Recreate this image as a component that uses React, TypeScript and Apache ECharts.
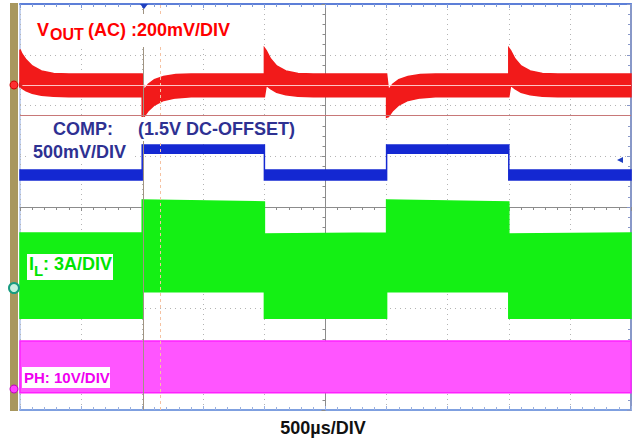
import React, { useEffect, useRef } from "react";
import * as echarts from "echarts";

// Time axis in divisions (-5 .. 5), 500us/DIV; vertical in divisions (-4 .. 4)
// VOUT (AC) envelope: time, upper edge, lower edge (divisions)
const voutT = [-5, -4.97, -4.9, -4.8, -4.65, -4.45, -4.2,
  -3, -3, -2.97, -2.9, -2.8, -2.65, -2.45, -2.2,
  -1, -1, -0.97, -0.9, -0.8, -0.65, -0.45, -0.2,
  1, 1, 1.03, 1.1, 1.2, 1.35, 1.55, 1.8,
  3, 3, 3.03, 3.1, 3.2, 3.35, 3.55, 3.8,
  5];
const voutHi = [3.10, 3.02, 2.90, 2.78, 2.68, 2.63, 2.62,
  2.62, 2.62, 2.30, 2.42, 2.51, 2.57, 2.61, 2.62,
  2.62, 3.13, 3.08, 2.92, 2.78, 2.68, 2.63, 2.62,
  2.62, 2.62, 2.30, 2.42, 2.51, 2.57, 2.61, 2.62,
  2.62, 3.13, 3.08, 2.92, 2.78, 2.68, 2.63, 2.62,
  2.62];
const voutLo = [2.38, 2.34, 2.29, 2.24, 2.20, 2.18, 2.17,
  2.17, 1.77, 1.78, 1.90, 2.01, 2.10, 2.15, 2.17,
  2.17, 2.17, 2.40, 2.33, 2.26, 2.21, 2.18, 2.17,
  2.17, 1.77, 1.78, 1.90, 2.01, 2.10, 2.15, 2.17,
  2.17, 2.17, 2.40, 2.33, 2.26, 2.21, 2.18, 2.17,
  2.17];

// COMP envelope
const compT = [-5, -3, -3, -1, -1, 1, 1, 3, 3, 5];
const compHi = [0.73, 0.73, 1.22, 1.22, 0.73, 0.73, 1.22, 1.22, 0.73, 0.73];
const compLo = [0.53, 0.53, 1.06, 1.06, 0.53, 0.53, 1.06, 1.06, 0.53, 0.53];

// IL envelope
const ilT = [-5, -3, -3, -1, -1, 1, 1, 3, 3, 5];
const ilHi = [-0.51, -0.51, 0.14, 0.10, -0.53, -0.51, 0.14, 0.10, -0.53, -0.51];
const ilLo = [-2.19, -2.19, -1.67, -1.67, -2.19, -2.19, -1.67, -1.67, -2.19, -2.19];

// PH envelope
const phT = [-5, 5];
const phHi = [-2.64, -2.64];
const phLo = [-3.66, -3.66];

// Cursor / reference lines (divisions)
const voutRefLevel = 2.40;
const redCursorLevel = 1.81;
const triggerTime = -2.98;
const cursorTime = -2.7;

const FONT = '"Liberation Sans", Arial, sans-serif';

function bandSeries(name: string, t: number[], hi: number[], lo: number[], fill: string, stroke: string, extra: any = {}) {
  const data = t.map((x, i) => [x, hi[i], lo[i]]);
  return {
    type: "custom",
    name,
    coordinateSystem: "cartesian2d",
    silent: true,
    z: 3,
    data,
    encode: { x: 0, y: [1, 2] },
    renderItem: (params: any, api: any) => {
      if (params.dataIndex !== 0) return null;
      const top = data.map((d) => api.coord([d[0], d[1]]));
      const bot = data.map((d) => api.coord([d[0], d[2]])).reverse();
      return {
        type: "polygon",
        shape: { points: top.concat(bot) },
        style: { fill, stroke, lineWidth: 1.5 },
      };
    },
    ...extra,
  };
}

function label(text: string, x: number, y: number, color: string, size: number, extra: any = {}) {
  return {
    type: "text",
    x,
    y,
    z: 100,
    silent: true,
    style: {
      text,
      fill: color,
      fontFamily: FONT,
      fontWeight: "bold",
      fontSize: size,
      align: "left",
      verticalAlign: "middle",
      ...extra,
    },
  };
}

function whiteBox(x: number, y: number, w: number, h: number) {
  return { type: "rect", z: 90, silent: true, shape: { x, y, width: w, height: h }, style: { fill: "#ffffff" } };
}

const RED = "#ff0000";
const NAVY = "#2e3192";
const GREEN = "#00e400";
const MAGENTA = "#f000f0";

const baseX = { type: "value", min: -5, max: 5, interval: 1, axisLabel: { show: false } };
const baseY = { type: "value", min: -4, max: 4, interval: 1, axisLabel: { show: false } };
const gridLine = { show: true, lineStyle: { color: "#b4b4b4", type: [1, 4], width: 1 } };

const option: any = {
  animation: false,
  backgroundColor: "#ffffff",
  grid: { left: 20, right: 6, top: 4, bottom: 30, show: true, borderColor: "#8aa6e0", borderWidth: 1, backgroundColor: "#ffffff" },
  xAxis: [
    {
      ...baseX,
      axisLine: { onZero: true, lineStyle: { color: "#8c8c8c", width: 1 } },
      axisTick: { show: true, length: 4, lineStyle: { color: "#8c8c8c" } },
      minorTick: { show: true, splitNumber: 5, length: 3, lineStyle: { color: "#8c8c8c" } },
      splitLine: gridLine,
    },
    {
      ...baseX,
      position: "top",
      axisLine: { onZero: false, lineStyle: { color: "#5d7fd8", width: 2 } },
      axisTick: { show: true, inside: true, length: 4, lineStyle: { color: "#7f9ad8" } },
      minorTick: { show: true, splitNumber: 5, length: 3, lineStyle: { color: "#7f9ad8" } },
      splitLine: { show: false },
    },
    {
      ...baseX,
      position: "bottom",
      axisLine: { onZero: false, lineStyle: { color: "#7fa0e0", width: 2 } },
      axisTick: { show: true, inside: true, length: 4, lineStyle: { color: "#9ab0e0" } },
      minorTick: { show: true, splitNumber: 5, length: 3, lineStyle: { color: "#9ab0e0" } },
      splitLine: { show: false },
    },
  ],
  yAxis: [
    {
      ...baseY,
      axisLine: { onZero: true, lineStyle: { color: "#8c8c8c", width: 1 } },
      axisTick: { show: true, length: 4, lineStyle: { color: "#8c8c8c" } },
      minorTick: { show: true, splitNumber: 5, length: 3, lineStyle: { color: "#8c8c8c" } },
      splitLine: gridLine,
    },
    {
      ...baseY,
      position: "right",
      axisLine: { onZero: false, lineStyle: { color: "#8898c8", width: 2 } },
      axisTick: { show: true, inside: true, length: 4, lineStyle: { color: "#8898c8" } },
      minorTick: { show: true, splitNumber: 5, length: 3, lineStyle: { color: "#8898c8" } },
      splitLine: { show: false },
    },
  ],
  series: [
    bandSeries("PH", phT, phHi, phLo, "#ff55ff", "#ff20ff", {
      z: 2,
      markLine: {
        silent: true,
        symbol: "none",
        label: { show: false },
        data: [
          { xAxis: triggerTime, lineStyle: { color: "#a09482", width: 1, type: "solid" } },
          { xAxis: cursorTime, lineStyle: { color: "#f5c2a2", width: 1, type: [3, 3] } },
          { yAxis: redCursorLevel, lineStyle: { color: "#c87878", width: 1, type: "solid" } },
        ],
      },
    }),
    bandSeries("VOUT", voutT, voutHi, voutLo, "#f21a1a", "#f21a1a", {
      markLine: {
        silent: true,
        symbol: "none",
        label: { show: false },
        data: [{ yAxis: voutRefLevel, lineStyle: { color: "rgba(255,215,215,0.9)", width: 1, type: "solid" } }],
      },
    }),
    bandSeries("COMP", compT, compHi, compLo, "#1428d2", "#1428d2"),
    bandSeries("IL", ilT, ilHi, ilLo, "#14f014", "#14f014"),
  ],
  graphic: [
    { type: "rect", z: 95, silent: true, shape: { x: 10, y: 3, width: 8, height: 408 }, style: { fill: "#a8975e" } },
    // channel markers
    { type: "circle", z: 96, silent: true, shape: { cx: 14, cy: 85, r: 4 }, style: { fill: "#ff3030", stroke: "#d00000", lineWidth: 1 } },
    { type: "polygon", z: 96, silent: true, shape: { points: [[19, 82], [23, 85], [19, 88]] }, style: { fill: "#e02020" } },
    { type: "circle", z: 96, silent: true, shape: { cx: 14, cy: 288, r: 5 }, style: { fill: "#c8f0e0", stroke: "#189c80", lineWidth: 2 } },
    { type: "circle", z: 96, silent: true, shape: { cx: 14, cy: 389, r: 4 }, style: { fill: "#ff40ff", stroke: "#c000c0", lineWidth: 1 } },
    // trigger markers
    { type: "polygon", z: 96, silent: true, shape: { points: [[140, 4], [148, 4], [144, 9]] }, style: { fill: "#2040c0" } },
    { type: "polygon", z: 96, silent: true, shape: { points: [[617, 160], [623, 157], [623, 163]] }, style: { fill: "#2040c0" } },
    // label backgrounds
    whiteBox(30, 14, 210, 33),
    whiteBox(48, 117, 72, 24),
    whiteBox(133, 117, 170, 24),
    whiteBox(28, 140, 104, 22),
    whiteBox(27, 254, 86, 26),
    whiteBox(22, 367, 88, 21),
    // labels
    label("V", 37, 29.5, RED, 18),
    label("OUT", 50, 34, RED, 16),
    label("(AC) :200mV/DIV", 88, 29.5, RED, 18),
    label("COMP:", 53, 128.5, NAVY, 18),
    label("(1.5V DC-OFFSET)", 138, 128.5, NAVY, 18),
    label("500mV/DIV", 33, 151.5, NAVY, 18),
    label("I", 29, 264, GREEN, 18),
    label("L", 34, 270, GREEN, 15),
    label(": 3A/DIV", 43, 264, GREEN, 18),
    label("PH: 10V/DIV", 24, 377.5, MAGENTA, 15),
    label("500\u00b5s/DIV", 323, 428, "#111111", 18, { align: "center" }),
  ],
};

export default function App() {
  const ref = useRef<HTMLDivElement>(null);
  useEffect(() => {
    const chart = echarts.init(ref.current as HTMLDivElement, null, { renderer: "svg" });
    chart.setOption(option);
    return () => chart.dispose();
  }, []);
  return (
    <div
      ref={ref}
      style={{ position: "absolute", left: 0, top: 0, width: 637, height: 440, background: "#ffffff" }}
    />
  );
}
